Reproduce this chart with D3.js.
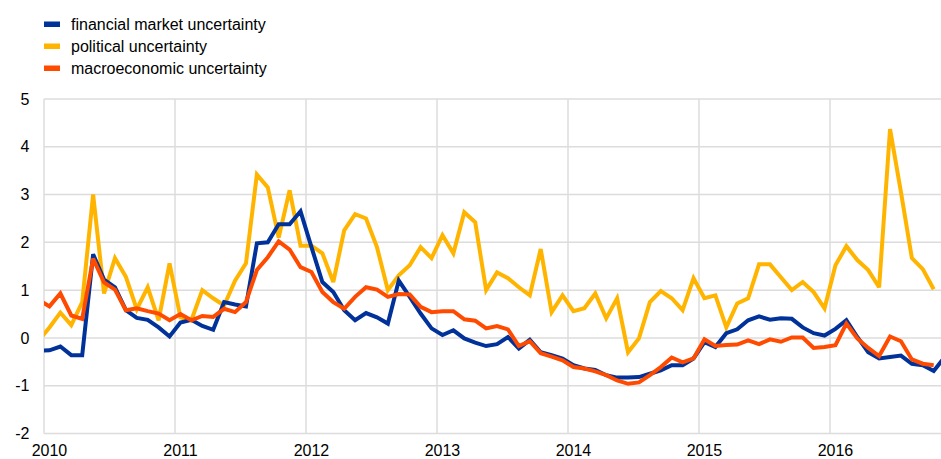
<!DOCTYPE html>
<html>
<head>
<meta charset="utf-8">
<script src="https://cdn.jsdelivr.net/npm/d3@7"></script>
<style>
  html, body { margin: 0; padding: 0; background: #fff; }
  svg { display: block; font-family: Arial, "Liberation Sans", sans-serif; }
</style>
</head>
<body>
<svg id="chart" width="941" height="459"></svg>
<script>
// Monthly data, first entry = December 2009
const startYear = 2009, startMonth = 11; // 0-based month (December)
const seriesNames = ["financial market uncertainty", "political uncertainty", "macroeconomic uncertainty"];
const seriesColors = ["#003299", "#FFB400", "#FF4B00"];

const financial = [
  -0.27,
  -0.26, -0.18, -0.36, -0.36, 1.75, 1.22, 1.06, 0.58, 0.42, 0.38, 0.22, 0.03,
  0.32, 0.38, 0.25, 0.17, 0.75, 0.70, 0.66, 1.98, 2.00, 2.38, 2.38, 2.65,
  1.90, 1.17, 0.96, 0.58, 0.37, 0.52, 0.43, 0.30, 1.20, 0.86, 0.51, 0.20,
  0.06, 0.16, -0.01, -0.10, -0.17, -0.13, 0.02, -0.22, -0.04, -0.30, -0.36, -0.43,
  -0.57, -0.64, -0.67, -0.78, -0.83, -0.83, -0.82, -0.75, -0.68, -0.57, -0.57, -0.43,
  -0.09, -0.19, 0.10, 0.18, 0.37, 0.45, 0.38, 0.41, 0.40, 0.22, 0.10, 0.05,
  0.19, 0.37, 0.02, -0.30, -0.43, -0.40, -0.37, -0.54, -0.57, -0.69, -0.40
];
const political = [
  -0.06,
  0.22, 0.53, 0.27, 0.75, 3.00, 0.93, 1.67, 1.28, 0.60, 1.06, 0.37, 1.56,
  0.43, 0.37, 1.00, 0.83, 0.68, 1.20, 1.56, 3.42, 3.15, 2.10, 3.09, 1.93,
  1.93, 1.77, 1.17, 2.25, 2.59, 2.50, 1.90, 1.00, 1.31, 1.52, 1.90, 1.67,
  2.15, 1.77, 2.63, 2.42, 1.00, 1.37, 1.25, 1.06, 0.89, 1.86, 0.54, 0.89,
  0.56, 0.62, 0.93, 0.41, 0.83, -0.30, -0.01, 0.75, 0.98, 0.83, 0.58, 1.25,
  0.83, 0.89, 0.22, 0.72, 0.83, 1.54, 1.54, 1.27, 1.00, 1.17, 0.96, 0.62,
  1.52, 1.92, 1.63, 1.42, 1.06, 4.37, 3.05, 1.67, 1.44, 1.02
];
const macroeconomic = [
  0.80,
  0.66, 0.93, 0.47, 0.40, 1.66, 1.16, 1.01, 0.58, 0.62, 0.56, 0.51, 0.37,
  0.50, 0.37, 0.46, 0.44, 0.61, 0.54, 0.75, 1.42, 1.69, 2.02, 1.85, 1.48,
  1.38, 0.96, 0.75, 0.61, 0.86, 1.06, 1.01, 0.86, 0.92, 0.91, 0.65, 0.54,
  0.56, 0.56, 0.39, 0.36, 0.20, 0.25, 0.18, -0.17, -0.07, -0.32, -0.39, -0.47,
  -0.61, -0.64, -0.70, -0.78, -0.89, -0.96, -0.93, -0.78, -0.61, -0.41, -0.51, -0.43,
  -0.03, -0.17, -0.15, -0.14, -0.05, -0.13, -0.03, -0.08, 0.01, 0.01, -0.21, -0.19,
  -0.15, 0.30, -0.01, -0.21, -0.38, 0.03, -0.07, -0.45, -0.54, -0.57
];
const yTicks = [-2, -1, 0, 1, 2, 3, 4, 5];
const xTickYears = [2010, 2011, 2012, 2013, 2014, 2015, 2016];

const W = 941, H = 459;
const svg = d3.select("#chart");

const x = d3.scaleLinear().domain([2010, 2017]).range([44, 961]);
const y = d3.scaleLinear().domain([-2, 5]).range([433.5, 99]);
const plotLeft = 44, plotRight = W;

// time value for index i (mid-month)
const tOf = i => startYear + (startMonth + i + 0.5) / 12;

// gridlines
const grid = svg.append("g");
grid.selectAll("line.h").data(yTicks).join("line")
  .attr("x1", plotLeft).attr("x2", plotRight)
  .attr("y1", d => y(d)).attr("y2", d => y(d))
  .attr("stroke", "#dcdcdc").attr("stroke-width", 1.5);
grid.selectAll("line.v").data(xTickYears).join("line")
  .attr("x1", d => x(d)).attr("x2", d => x(d))
  .attr("y1", y(5)).attr("y2", y(-2))
  .attr("stroke", "#dcdcdc").attr("stroke-width", 1.5);

// y labels
svg.append("g").selectAll("text").data(yTicks).join("text")
  .attr("x", 29.5).attr("y", d => y(d)).attr("dy", "0.35em")
  .attr("text-anchor", "end").attr("font-size", 16).attr("fill", "#000")
  .text(d => d);

// x labels (centred on mid-January)
svg.append("g").selectAll("text").data(xTickYears).join("text")
  .attr("x", d => x(d + 0.5 / 12)).attr("y", 456)
  .attr("text-anchor", "middle").attr("font-size", 16).attr("fill", "#000")
  .text(d => d);

// clip
svg.append("clipPath").attr("id", "clip").append("rect")
  .attr("x", plotLeft).attr("y", 0).attr("width", plotRight - plotLeft).attr("height", H);

const line = d3.line().x((d, i) => x(tOf(i))).y(d => y(d));
const lines = svg.append("g").attr("clip-path", "url(#clip)");
const drawOrder = [1, 0, 2];
const dataSets = [financial, political, macroeconomic];
drawOrder.forEach(k => {
  lines.append("path").datum(dataSets[k])
    .attr("d", line)
    .attr("fill", "none")
    .attr("stroke", seriesColors[k])
    .attr("stroke-width", 4)
    .attr("stroke-linejoin", "miter")
    .attr("stroke-miterlimit", 3);
});

// legend
const leg = svg.append("g");
seriesNames.forEach((name, k) => {
  leg.append("rect").attr("x", 44).attr("y", 21.5 + 22 * k).attr("width", 16).attr("height", 5.5)
    .attr("fill", seriesColors[k]);
  leg.append("text").attr("x", 71).attr("y", 29.5 + 22 * k)
    .attr("font-size", 16).attr("fill", "#000").text(name);
});
</script>
</body>
</html>
